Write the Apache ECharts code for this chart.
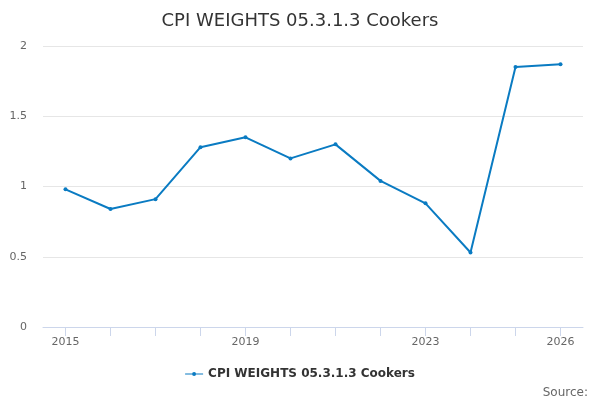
<!DOCTYPE html>
<html>
<head>
<meta charset="utf-8">
<script src="https://cdn.jsdelivr.net/npm/echarts@6/dist/echarts.min.js"></script>
<style>html,body{margin:0;padding:0;background:#fff}#c{width:600px;height:400px}</style>
</head>
<body>
<div id="c"></div>
<script>
const titleText = 'CPI WEIGHTS 05.3.1.3 Cookers';
const seriesName = 'CPI WEIGHTS 05.3.1.3 Cookers';
const years = ['2015','2016','2017','2018','2019','2020','2021','2022','2023','2024','2025','2026'];
const values = [0.98, 0.84, 0.91, 1.28, 1.35, 1.20, 1.30, 1.04, 0.88, 0.53, 1.85, 1.87];
const shownLabels = ['2015','2019','2023','2026'];

const chart = echarts.init(document.getElementById('c'), null, {renderer:'canvas'});
const font = 'DejaVu Sans';
chart.setOption({
  animation: false,
  textStyle: {fontFamily: font},
  title: {
    text: titleText, left: 'center', top: 7,
    textStyle: {fontFamily: font, fontSize: 18, fontWeight: 'normal', color: '#333'}
  },
  graphic: [{
    type: 'text', right: 12, top: 387,
    style: {text: 'Source:', fontFamily: font, fontSize: 12, fill: '#666'}
  }],
  legend: {
    bottom: 15, left: 'center', itemWidth: 18, itemHeight: 8, itemGap: 8,
    textStyle: {fontFamily: font, fontSize: 12, fontWeight: 'bold', color: '#333'},
    data: [{name: seriesName, icon: 'path://M0,3.5 L18,3.5 L18,4.5 L0,4.5 Z M9,2 A2,2 0 1,1 8.99,2 Z'}]
  },
  grid: {left: 43, right: 17, top: 46, bottom: 73, containLabel: false},
  xAxis: {
    type: 'category', data: years, boundaryGap: true,
    axisLine: {show: true, lineStyle: {color: '#ccd6eb', width: 1}},
    axisTick: {show: true, alignWithLabel: true, interval: 0, length: 9, lineStyle: {color: '#ccd6eb', width: 1}},
    axisLabel: {
      interval: (i, v) => shownLabels.includes(v),
      color: '#666', fontSize: 11, fontFamily: font, margin: 10
    },
    splitLine: {show: false}
  },
  yAxis: {
    type: 'value', min: 0, max: 2, interval: 0.5,
    axisLine: {show: false}, axisTick: {show: false},
    axisLabel: {color: '#666', fontSize: 11, fontFamily: font, margin: 16},
    splitLine: {lineStyle: {color: '#e6e6e6'}}
  },
  series: [{
    name: seriesName, type: 'line', data: values,
    symbol: 'circle', symbolSize: 4,
    lineStyle: {color: '#0a7bc2', width: 2},
    itemStyle: {color: '#0a7bc2'}
  }]
});
</script>
</body>
</html>
